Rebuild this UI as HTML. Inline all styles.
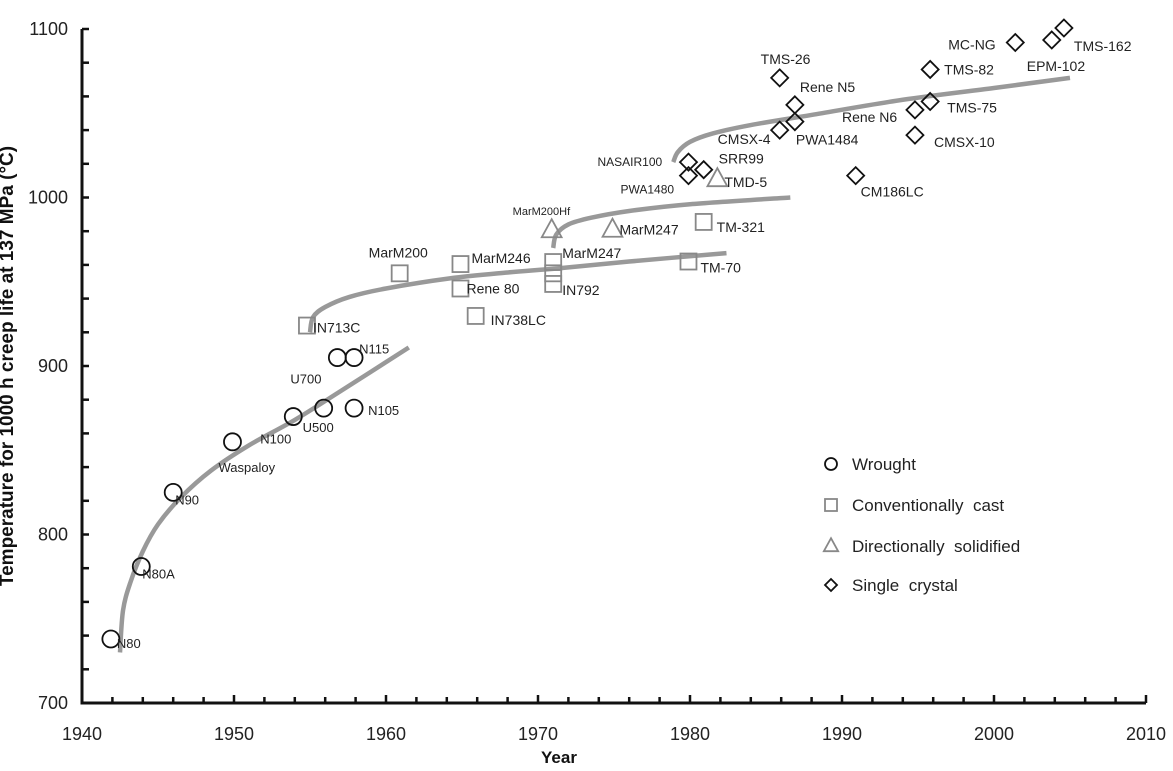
<!DOCTYPE html>
<html><head><meta charset="utf-8"><style>
html,body{margin:0;padding:0;background:#fff;}
svg{display:block;font-family:"Liberation Sans",Arial,sans-serif;}
</style></head><body>
<svg id="chart" width="1173" height="771" viewBox="0 0 1173 771">
<g id="axes"></g><g id="curves"></g><g id="marks"></g><g id="labels"></g><g id="legend"></g>
</svg>
<script>
// Data arrays
const wroughtNames = ["N80","N80A","N90","Waspaloy","N100","U500","N105","U700","N115"];
const wroughtYears = [1941.9,1943.9,1946,1949.9,1953.9,1955.9,1957.9,1956.8,1957.9];
const wroughtTemps = [738,781,825,855,870,875,875,905,905];
const castNames = ["IN713C","MarM200","MarM246","Rene 80","IN738LC","MarM247","","IN792","TM-70","TM-321"];
const castYears = [1954.8,1960.9,1964.9,1964.9,1965.9,1971,1971,1971,1979.9,1980.9];
const castTemps = [924,955,960.5,946,929.7,961.7,955,948.7,962,985.5];
const dsNames = ["MarM200Hf","MarM247","TMD-5"];
const dsYears = [1970.9,1974.9,1981.8];
const dsTemps = [980.7,981,1011];
const scNames = ["NASAIR100","PWA1480","SRR99","TMS-26","Rene N5","CMSX-4","PWA1484","CM186LC","Rene N6","TMS-75","CMSX-10","TMS-82","MC-NG","EPM-102","TMS-162"];
const scYears = [1979.9,1979.9,1980.9,1985.9,1986.9,1985.9,1986.9,1990.9,1994.8,1995.8,1994.8,1995.8,2001.4,2003.8,2004.6];
const scTemps = [1021,1013,1016.5,1071,1055,1040,1045,1013,1052,1057,1037,1076,1092,1093.5,1100.6];
const curveWroughtX = [1942.5,1942.7,1943.2,1944,1945,1946.5,1948.5,1951,1954,1957,1961.5];
const curveWroughtY = [730,755,772,790,806,822,838,853,868,885,911];
const curveCastX = [1955,1955.2,1956,1957.6,1960,1964.2,1968,1971.4,1976,1982.4];
const curveCastY = [920,929,935,941,946,952,955.5,958,962,967];
const curveDsX = [1971,1971.2,1972,1973.5,1976,1980,1986.6];
const curveDsY = [970,978,984,988,992,996,1000];
const curveScX = [1978.9,1979.2,1980,1981.5,1984,1988,1994,2000,2005];
const curveScY = [1021,1027,1033,1038,1043,1049,1058,1065,1071];
const xTicks = [1940,1950,1960,1970,1980,1990,2000,2010];
const yTicks = [700,800,900,1000,1100];

// label offsets (pixels) — styling
const offW = [[6,9],[1,12],[2,12],[-14,30],[-33,27],[-21,24],[14,7],[-47,26],[5,-4]];
const offC = [[6,7],[-31,-16],[11,-1],[6,5],[15,9],[9,-4],[0,0],[9,11],[12,11],[13,10]];
const offD = [[-39,-15],[7,5],[7,8]];
const offS = [[-91,4],[-68,18],[15,-6],[-19,-14],[5,-13],[-62,14],[1,23],[5,21],[-73,12],[17,11],[19,12],[14,5],[-67,7],[-25,31],[10,23]];

const X0=82, X1=1146, Y0=703, Y1=29;
const xs = v => X0 + (v-1940)/(2010-1940)*(X1-X0);
const ys = v => Y0 - (v-700)/(1100-700)*(Y0-Y1);
const NS="http://www.w3.org/2000/svg";
function mk(parent,tag,attrs,text){const e=document.createElementNS(NS,tag);for(const k in attrs)e.setAttribute(k,attrs[k]);if(text!==undefined)e.textContent=text;document.getElementById(parent).appendChild(e);return e;}

// axes
let e;
e=mk("axes","path",{d:`M${X0},${Y1} V${Y0} H${X1}`,fill:"none",stroke:"#111","stroke-width":3});


for(let v=700;v<=1100;v+=20){const y=ys(v);e=mk("axes","line",{x1:X0,x2:X0+7,y1:y,y2:y,stroke:"#111","stroke-width":2.5});

}
for(let v=1940;v<=2010;v+=2){const x=xs(v);e=mk("axes","line",{x1:x,x2:x,y1:Y0,y2:Y0-(v%10===0?8:6),stroke:"#111","stroke-width":2.5});

}
yTicks.forEach(v=>{e=mk("axes","text",{x:68,y:ys(v)+6,"text-anchor":"end","font-size":18,fill:"#222"},v);

});
xTicks.forEach(v=>{e=mk("axes","text",{x:xs(v),y:740,"text-anchor":"middle","font-size":18,fill:"#222"},v);

});
e=mk("axes","text",{x:0,y:0,"text-anchor":"middle","font-size":17,"font-weight":"bold",fill:"#111",transform:"translate(559,763)"},"Year");


e=mk("axes","text",{x:0,y:0,transform:"translate(13,366) rotate(-90)","text-anchor":"middle","font-size":19,"font-weight":"bold",fill:"#111"},"Temperature for 1000 h creep life at 137 MPa (°C)");



// curves
[[curveWroughtX,curveWroughtY,'wrought-trend'],[curveCastX,curveCastY,'cast-trend'],[curveDsX,curveDsY,'ds-trend'],[curveScX,curveScY,'sc-trend']].forEach(([cx,cy,n])=>{
 const pts=cx.map((x,i)=>[xs(x),ys(cy[i])]);
 let d=`M${pts[0][0]},${pts[0][1]}`;
 for(let i=1;i<pts.length;i++){const p0=pts[Math.max(0,i-2)],p1=pts[i-1],p2=pts[i],p3=pts[Math.min(pts.length-1,i+1)];
  d+=` C${p1[0]+(p2[0]-p0[0])/6},${p1[1]+(p2[1]-p0[1])/6} ${p2[0]-(p3[0]-p1[0])/6},${p2[1]-(p3[1]-p1[1])/6} ${p2[0]},${p2[1]}`;}
 e=mk("curves","path",{d,fill:"none",stroke:"#999","stroke-width":4.5,"stroke-linecap":"butt"});
 
 
});

function circle(g,x,y,r){return mk(g,"circle",{cx:x,cy:y,r:r,fill:"none",stroke:"#111","stroke-width":1.8});}
function square(g,x,y,s){return mk(g,"rect",{x:x-s/2,y:y-s/2,width:s,height:s,fill:"none",stroke:"#888","stroke-width":1.8});}
function tri(g,x,y,s){return mk(g,"path",{d:`M${x},${y-s*0.6} L${x+s*0.55},${y+s*0.4} L${x-s*0.55},${y+s*0.4} Z`,fill:"none",stroke:"#888","stroke-width":1.8});}
function dia(g,x,y,s){return mk(g,"path",{d:`M${x},${y-s} L${x+s},${y} L${x},${y+s} L${x-s},${y} Z`,fill:"none",stroke:"#111","stroke-width":1.8});}
function label(txt,x,y,off,fs){if(!txt)return;e=mk("labels","text",{x:x+off[0],y:y+off[1],"font-size":fs,fill:"#222"},txt);
 
 }

wroughtYears.forEach((yr,i)=>{const x=xs(yr),y=ys(wroughtTemps[i]);e=circle("marks",x,y,8.5);
 
 
 label(wroughtNames[i],x,y,offW[i],13);});
castYears.forEach((yr,i)=>{const x=xs(yr),y=ys(castTemps[i]);e=square("marks",x,y,16);
 
 
 label(castNames[i],x,y,offC[i],14);});
dsYears.forEach((yr,i)=>{const x=xs(yr),y=ys(dsTemps[i]);e=tri("marks",x,y,18);
 
 
 label(dsNames[i],x,y,offD[i],i===0?11:14);});
scYears.forEach((yr,i)=>{const x=xs(yr),y=ys(scTemps[i]);e=dia("marks",x,y,8.5);
 
 
 label(scNames[i],x,y,offS[i],(i<2)?12:14);});

// legend
const legNames=["Wrought","Conventionally  cast","Directionally  solidified","Single  crystal"];
const legY=[464,505,546,585];
e=circle("legend",831,legY[0],6);
e=square("legend",831,legY[1],12);
e=tri("legend",831,legY[2],13);
e=dia("legend",831,legY[3],6);
legNames.forEach((n,i)=>{e=mk("legend","text",{x:852,y:legY[i]+6,"font-size":17,fill:"#222","xml:space":"preserve"},n);
 e.style.whiteSpace="pre";
 
 });
</script>
</body></html>
